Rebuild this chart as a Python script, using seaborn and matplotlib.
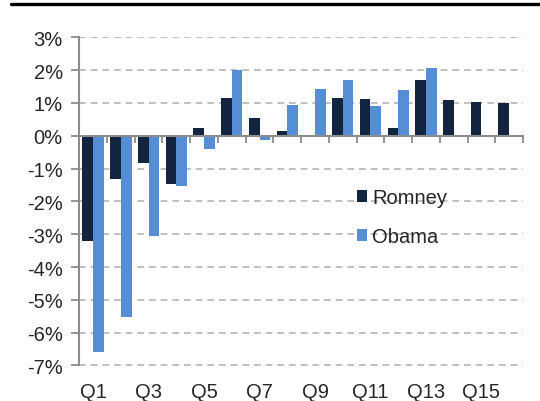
import numpy as np
import pandas as pd
import matplotlib
matplotlib.use("Agg")
import matplotlib.pyplot as plt
from matplotlib.lines import Line2D
import seaborn as sns

quarters = [f"Q{i}" for i in range(1, 17)]
romney = [-3.20, -1.31, -0.84, -1.47, 0.24, 1.15, 0.54, 0.16, 0.0, 1.16, 1.13, 0.23, 1.70, 1.09, 1.03, 1.01]
obama = [-6.58, -5.52, -3.04, -1.52, -0.40, 2.00, -0.12, 0.93, 1.41, 1.70, 0.90, 1.38, 2.05, np.nan, np.nan, np.nan]
series_names = ["Romney", "Obama"]
colors = ["#12243F", "#558ED5"]
y_ticks = [3, 2, 1, 0, -1, -2, -3, -4, -5, -6, -7]
x_labels = ["Q1", "Q3", "Q5", "Q7", "Q9", "Q11", "Q13", "Q15"]

df = pd.DataFrame({
    "quarter": quarters * 2,
    "value": romney + obama,
    "series": [series_names[0]] * 16 + [series_names[1]] * 16,
})

sns.set_style("white")
plt.rcParams["font.family"] = ["Liberation Sans", "DejaVu Sans"]

fs = 14.5
fig = plt.figure(figsize=(5.4, 4.02), dpi=100)
ax = fig.add_axes([79.3 / 540, 1 - 366.5 / 402, (523 - 79.3) / 540, (366.5 - 38.3) / 402])

sns.barplot(data=df, x="quarter", y="value", hue="series", palette=colors,
            saturation=1, width=0.77, dodge=True, linewidth=0, ax=ax, legend=True)

ax.set_xlim(-0.5, 15.5)
ax.set_ylim(-7, 3)
ax.set_xlabel("")
ax.set_ylabel("")

axis_col = "#8C8C8C"
ax.set_yticks(y_ticks)
ax.set_yticklabels([f"{t}%" for t in y_ticks], fontsize=fs)
ax.tick_params(axis="y", direction="out", length=6, width=1.3, color=axis_col, pad=6, left=True)
ax.yaxis.grid(True, linestyle=(0, (3.5, 2.5)), color="#C0C0C0", linewidth=1.4)
ax.xaxis.grid(False)
ax.set_axisbelow(True)

for s in ["top", "right"]:
    ax.spines[s].set_visible(False)
ax.spines["left"].set_color(axis_col)
ax.spines["left"].set_linewidth(1.5)
ax.spines["bottom"].set_position(("data", 0))
ax.spines["bottom"].set_color(axis_col)
ax.spines["bottom"].set_linewidth(1.5)
ax.spines["bottom"].set_zorder(3)

ax.set_xticks(np.arange(-0.5, 16.0, 1.0), minor=True)
ax.tick_params(axis="x", which="minor", direction="out", length=5, width=1.3, color=axis_col, bottom=True)
ax.tick_params(axis="x", which="major", length=0, labelbottom=False)

sec = ax.secondary_xaxis("bottom")
sec.set_xticks(np.arange(0, 16, 2))
sec.set_xticklabels(x_labels, fontsize=fs)
sec.tick_params(axis="x", length=0, pad=12)
sec.spines["bottom"].set_visible(False)

leg = ax.legend(loc="upper left", bbox_to_anchor=(357 / 540, 1 - 189 / 402),
                bbox_transform=fig.transFigure, frameon=False, fontsize=fs,
                handlelength=0.5, handleheight=0.5, handletextpad=0.25,
                labelspacing=1.0, borderpad=0, borderaxespad=0)
for h in leg.legend_handles:
    h.set_linewidth(0)

fig.add_artist(Line2D([11 / 540, 1.0], [1 - 4.5 / 402, 1 - 4.5 / 402], color="black", linewidth=2.4))

fig.savefig("out.png", dpi=100)
